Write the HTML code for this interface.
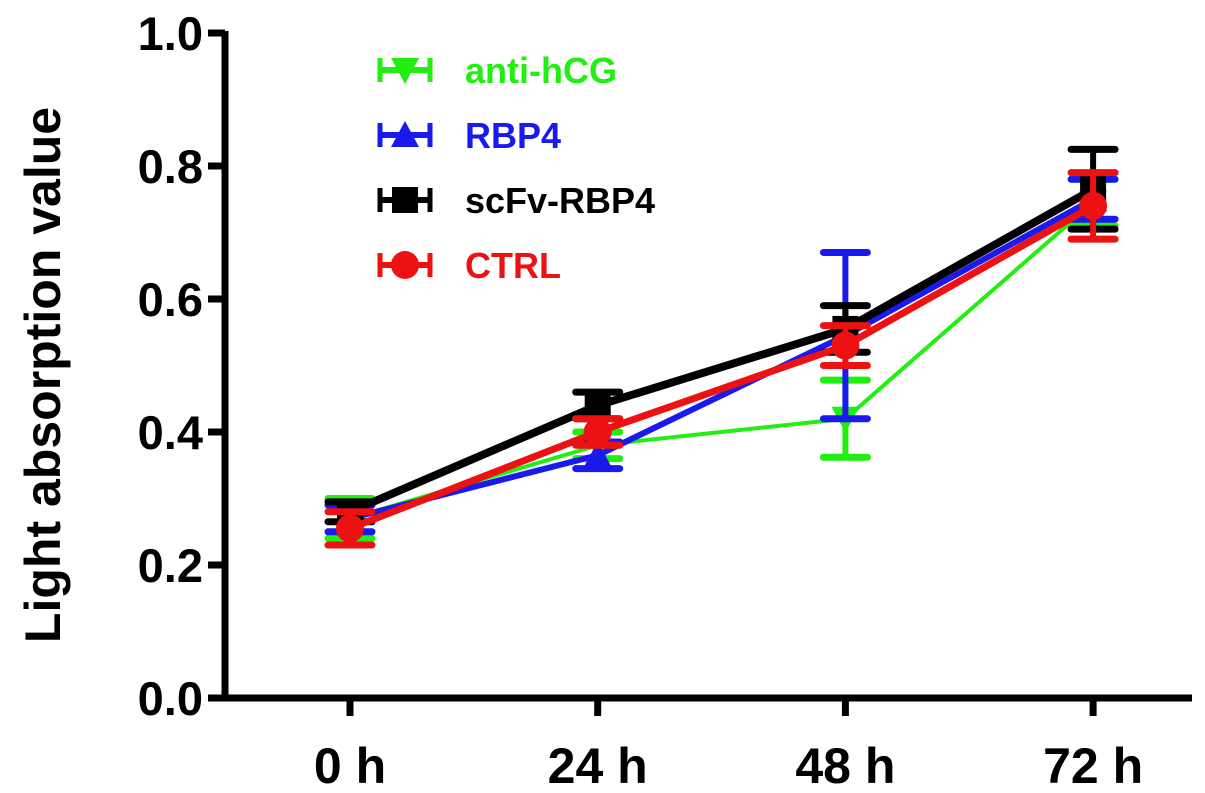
<!DOCTYPE html>
<html><head><meta charset="utf-8"><style>
body{margin:0;background:#fff}
svg{display:block;font-family:"Liberation Sans",Arial,sans-serif;font-weight:bold}
</style></head><body>
<svg id="chart" width="1205" height="793" viewBox="0 0 1205 793"></svg>
<script>
const categories=["0 h","24 h","48 h","72 h"];
const yTicks=[0,0.2,0.4,0.6,0.8,1.0];
const seriesNames=["anti-hCG","RBP4","scFv-RBP4","CTRL"];
const antiHcg=[0.27,0.38,0.42,0.745];
const antiHcgErr=[0.03,0.02,0.058,0.035];
const rbp4=[0.27,0.365,0.545,0.75];
const rbp4Err=[0.02,0.02,0.125,0.03];
const scfv=[0.28,0.44,0.555,0.765];
const scfvErr=[0.015,0.02,0.035,0.06];
const ctrl=[0.255,0.40,0.53,0.74];
const ctrlErr=[0.025,0.02,0.03,0.05];
const NS="http://www.w3.org/2000/svg";
const svg=document.getElementById('chart');
const x=i=>350+i*247.7;
const y=v=>698-v*665;
function mk(t,a,p){const e=document.createElementNS(NS,t);for(const k in a)e.setAttribute(k,a[k]);(p||svg).appendChild(e);return e;}
let ax=mk('line',{x1:225,y1:31,x2:225,y2:700,stroke:'#000','stroke-width':7});


ax=mk('line',{x1:222,y1:698,x2:1192,y2:698,stroke:'#000','stroke-width':7});


yTicks.forEach(v=>{
 mk('line',{x1:208,y1:y(v),x2:225,y2:y(v),stroke:'#000','stroke-width':7});
 const t=mk('text',{x:203,y:y(v)+17,'text-anchor':'end','font-size':47});t.textContent=v.toFixed(1);
 
 
});
categories.forEach((c,i)=>{
 mk('line',{x1:x(i),y1:698,x2:x(i),y2:716,stroke:'#000','stroke-width':7});
 const t=mk('text',{x:x(i),y:783,'text-anchor':'middle','font-size':50});t.textContent=c;
 
 
});
const yt=mk('text',{x:0,y:0,transform:'translate(60,375) rotate(-90)','text-anchor':'middle','font-size':50});
yt.textContent='Light absorption value';


function marker(type,cx,cy,col,g){
 if(type==='tdown')mk('path',{d:`M${cx-14},${cy-12}L${cx+14},${cy-12}L${cx},${cy+14}Z`,fill:col},g);
 else if(type==='tup')mk('path',{d:`M${cx-14},${cy+12}L${cx+14},${cy+12}L${cx},${cy-14}Z`,fill:col},g);
 else if(type==='sq')mk('rect',{x:cx-13,y:cy-13,width:26,height:26,fill:col},g);
 else mk('circle',{cx:cx,cy:cy,r:14,fill:col},g);
}
const defs=[[antiHcg,antiHcgErr,'#22ee11','tdown',4,'anti-hcg'],[rbp4,rbp4Err,'#1a1aee','tup',6,'rbp4'],[scfv,scfvErr,'#000','sq',8,'scfv-rbp4'],[ctrl,ctrlErr,'#ee1111','circ',7,'ctrl']];
defs.forEach(([vals,errs,col,type,w,nm],si)=>{
 const g=mk('g',{});
 
 
 mk('polyline',{points:vals.map((v,i)=>x(i)+','+y(v)).join(' '),fill:'none',stroke:col,'stroke-width':w,'stroke-linejoin':'round'},g);
 vals.forEach((v,i)=>{
  const hi=y(v+errs[i]),lo=y(v-errs[i]);
  mk('line',{x1:x(i),y1:hi,x2:x(i),y2:lo,stroke:col,'stroke-width':6},g);
  mk('line',{x1:x(i)-22,y1:hi,x2:x(i)+22,y2:hi,stroke:col,'stroke-width':7,'stroke-linecap':'round'},g);
  mk('line',{x1:x(i)-22,y1:lo,x2:x(i)+22,y2:lo,stroke:col,'stroke-width':7,'stroke-linecap':'round'},g);
  marker(type,x(i),y(v),col,g);
 });
 const ly=70+si*65;
 const lg=mk('g',{});
 
 
 mk('line',{x1:378,y1:ly,x2:432,y2:ly,stroke:col,'stroke-width':6},lg);
 mk('line',{x1:380,y1:ly-12,x2:380,y2:ly+12,stroke:col,'stroke-width':5},lg);
 mk('line',{x1:430,y1:ly-12,x2:430,y2:ly+12,stroke:col,'stroke-width':5},lg);
 marker(type,405,ly,col,lg);
 const t=mk('text',{x:465,y:ly+13,'font-size':36,fill:col},lg);t.textContent=seriesNames[si];
});
</script>
</body></html>
